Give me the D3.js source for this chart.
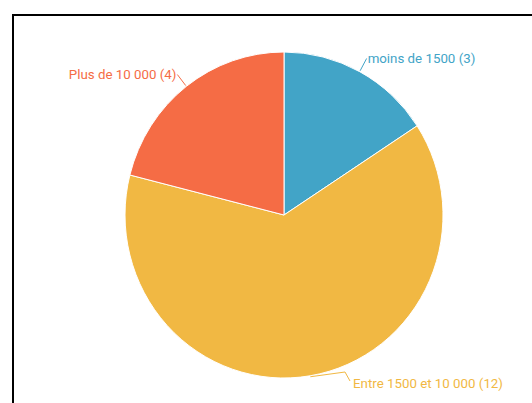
<!DOCTYPE html>
<html>
<head>
<meta charset="utf-8">
<script src="https://cdn.jsdelivr.net/npm/d3@7"></script>
<style>
  html, body { margin: 0; padding: 0; background: #fff; overflow: hidden; }
  svg { display: block; }
  text { font-family: Roboto, "Noto Sans", sans-serif; font-size: 13.3px; }
</style>
</head>
<body>
<svg id="chart" width="532" height="403"></svg>
<script>
const categories = ["moins de 1500", "Entre 1500 et 10 000", "Plus de 10 000"];
const values = [3, 12, 4];
const colors = ["#42a4c7", "#f1b843", "#f56c45"];

const W = 532, H = 403;
const cx = 284, cy = 215, r = 163, sx = 159 / 163;

const svg = d3.select("#chart");

// frame
svg.append("rect")
  .attr("x", 13).attr("y", 15)
  .attr("width", 600).attr("height", 500)
  .attr("fill", "none").attr("stroke", "#000").attr("stroke-width", 2);

const data = categories.map((c, i) => ({ name: c, value: values[i], color: colors[i] }));

const pie = d3.pie().sort(null).value(d => d.value).startAngle(0).endAngle(2 * Math.PI);
const arcs = pie(data);
const arc = d3.arc().innerRadius(0).outerRadius(r);

const g = svg.append("g").attr("transform", `translate(${cx},${cy})`);

g.append("g").attr("transform", `scale(${sx},1)`)
  .selectAll("path.slice")
  .data(arcs)
  .join("path")
  .attr("class", "slice")
  .attr("d", arc)
  .attr("fill", d => d.data.color)
  .attr("stroke", "#fff")
  .attr("stroke-width", 1)
  .attr("stroke-linejoin", "round");

function polar(rad, a) { return [sx * rad * Math.sin(a), -rad * Math.cos(a)]; }

const labels = g.append("g");
arcs.forEach(d => {
  const mid = (d.startAngle + d.endAngle) / 2;
  const side = Math.sin(mid) >= 0 ? 1 : -1;
  const start = polar(r + 1, mid);
  let T = polar(r + 15, mid);
  let pts;
  const maxY = H - 20 - cy;
  if (T[1] > maxY) {
    const ty = maxY;
    const ey = ty - 11;
    const ex = side * sx * Math.sqrt((r + 6) * (r + 6) - ey * ey);
    const end = [ex + side * 5, ty - 2];
    pts = [start, [ex, ey], end];
    T = [end[0] + side * 2, ty];
  } else {
    pts = [start, T];
  }
  labels.append("polyline")
    .attr("points", pts.map(p => p.join(",")).join(" "))
    .attr("fill", "none")
    .attr("stroke", d.data.color)
    .attr("stroke-width", 1);
  labels.append("text")
    .attr("x", T[0] + side * 1)
    .attr("y", T[1])
    .attr("dy", "0.35em")
    .attr("text-anchor", side > 0 ? "start" : "end")
    .attr("fill", d.data.color)
    .text(`${d.data.name} (${d.data.value})`);
});
</script>
</body>
</html>
